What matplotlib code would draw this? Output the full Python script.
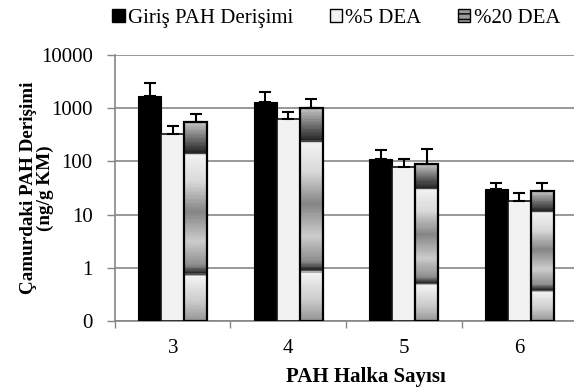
import numpy as np
import matplotlib as mpl
mpl.use('Agg')
import matplotlib.pyplot as plt
from matplotlib.patches import Patch

plt.rcParams['font.family'] = ['Liberation Serif', 'DejaVu Serif']

rings = ['3', '4', '5', '6']
series = ['Giriş PAH Derişimi', '%5 DEA', '%20 DEA']
giris = [1660, 1320, 111, 30]
giris_err = [1360, 720, 51, 9]
dea5 = [331, 617, 77.5, 18.1]
dea5_err = [137, 215, 35.5, 7.4]
dea20 = [550, 1020, 91, 27.7]
dea20_err = [226, 500, 83, 11.3]
yticks = [0.1, 1, 10, 100, 1000, 10000]
ytick_labels = ['0', '1', '10', '100', '1000', '10000']

# chrome-like vertical gradient used by the %20 DEA bars (fraction from top -> gray level)
grad_pos = [0.0, 0.155, 0.165, 0.30, 0.45, 0.60, 0.72, 0.76, 0.775, 0.90, 1.0]
grad_val = [0.78, 0.13, 0.95, 0.85, 0.52, 0.80, 0.55, 0.13, 0.95, 0.80, 0.58]

fs = 15
fig = plt.figure(figsize=(5.74, 3.92), dpi=100)
ax = fig.add_axes([0.2003, 0.1811, 0.8050, 0.6786])
ax.set_yscale('log')

x = np.arange(len(rings))
w = 0.2
base = 0.1
grid_c = '#868686'

ax.bar(x - w, np.array(giris) - base, w, bottom=base, color='black', edgecolor='black', lw=0.8, zorder=3)
ax.bar(x, np.array(dea5) - base, w, bottom=base, color='#f2f2f2', edgecolor='#111111', lw=1.2, zorder=3)

# gradient bars, sliced in log space so the pattern follows pixel height
n = 150
for xi, v in zip(x + w, dea20):
    lo, hi = np.log10(base), np.log10(v)
    for i in range(n):
        f = (i + 0.5) / n
        g = np.interp(f, grad_pos, grad_val)
        top = 10 ** (hi - i / n * (hi - lo))
        bot = 10 ** (hi - (i + 1) / n * (hi - lo))
        ax.bar(xi, top - bot, w, bottom=bot, color=(g, g, g), lw=0, zorder=3)
ax.bar(x + w, np.array(dea20) - base, w, bottom=base, facecolor='none', edgecolor='black', lw=1.6, zorder=4)

for off, vals, errs in [(-w, giris, giris_err), (0, dea5, dea5_err), (w, dea20, dea20_err)]:
    ax.errorbar(x + off, vals, yerr=[np.zeros(len(vals)), errs], fmt='none', ecolor='black',
                elinewidth=1.5, capsize=4, capthick=1.5, zorder=5)

ax.set_ylim(0.1, 10000)
ax.set_xlim(-0.5, 3.5)
ax.yaxis.set_major_locator(mpl.ticker.FixedLocator(yticks))
ax.yaxis.set_minor_locator(mpl.ticker.NullLocator())
ax.set_yticklabels(ytick_labels)
ax.set_xticks(x)
ax.set_xticklabels(rings)
ax.set_xticks(np.arange(-0.5, 4, 1), minor=True)
ax.tick_params(axis='x', which='major', length=0, pad=13, labelsize=fs)
ax.tick_params(axis='x', which='minor', length=5, color=grid_c, width=1)
ax.tick_params(axis='y', length=6, color=grid_c, width=1, pad=10, labelsize=fs)
ax.grid(axis='y', color=grid_c, lw=1.2, zorder=0)
ax.set_axisbelow(True)
for s in ['top', 'right']:
    ax.spines[s].set_visible(False)
for s in ['left', 'bottom']:
    ax.spines[s].set_color(grid_c)
    ax.spines[s].set_linewidth(1.2)

ax.set_xlabel('PAH Halka Sayısı', fontsize=fs, fontweight='bold')
ax.xaxis.set_label_coords(0.543, -0.172)
ax.set_ylabel('Çamurdaki PAH Derişimi\n(ng/g KM)', fontsize=13.8, fontweight='bold', linespacing=1.0)
ax.yaxis.set_label_coords(-0.131, 0.5)

handles = [Patch(facecolor='black', edgecolor='black'),
           Patch(facecolor='#f2f2f2', edgecolor='black'),
           Patch(facecolor='#9a9a9a', edgecolor='black', hatch='---')]
fig.legend(handles, series, ncol=3, loc='upper left', bbox_to_anchor=(0.163, 1.025), frameon=False,
           fontsize=fs, handlelength=0.6, handleheight=0.6, handletextpad=0.15, columnspacing=1.75)

fig.savefig('out.png', dpi=100)
